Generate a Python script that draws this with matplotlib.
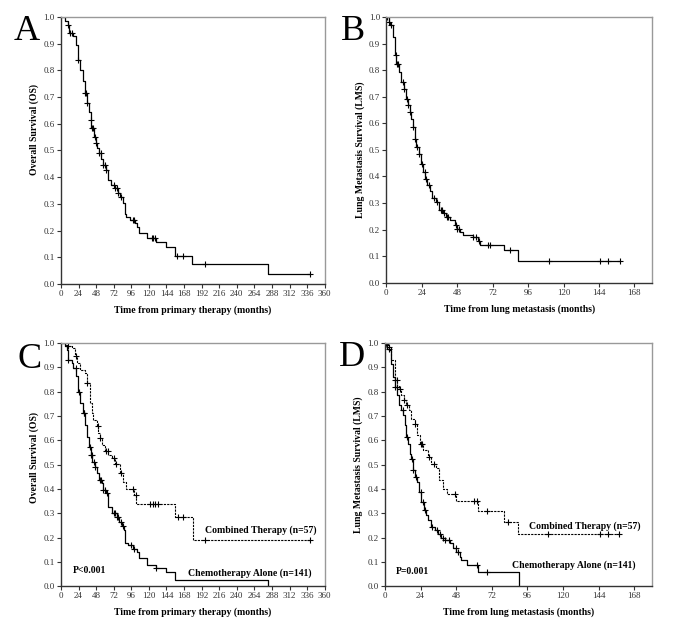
import numpy as np
import matplotlib
matplotlib.use("Agg")
import matplotlib.pyplot as plt

plt.rcParams['font.family'] = ['Liberation Serif', 'DejaVu Serif']

# ---- Panel A: overall survival, all patients (step drop points)
a_t = [0, 5, 10, 11, 17, 20.5, 23, 26, 29.5, 33, 36, 38, 40.5, 41.5, 45, 47.7, 49.5, 52, 55, 57.7,
       61, 63.6, 67.7, 73.6, 78, 81, 84, 86.8, 88.6, 94, 101, 104, 107, 117, 129.5, 144, 155.5,
       179.5, 282.7]
a_s = [1.0, 0.985, 0.97, 0.94, 0.93, 0.896, 0.84, 0.80, 0.76, 0.714, 0.677, 0.645, 0.615, 0.583,
       0.552, 0.527, 0.508, 0.489, 0.467, 0.446, 0.427, 0.39, 0.369, 0.358, 0.342, 0.327, 0.304,
       0.264, 0.252, 0.239, 0.229, 0.214, 0.191, 0.174, 0.156, 0.139, 0.104, 0.076, 0.039]
a_end = 340
a_cens = [10, 13, 15, 23, 33, 34, 36, 41, 42, 44, 46, 48, 52, 54, 58, 60, 62, 72, 74, 76, 78, 82,
          98, 100, 124, 126, 128, 158, 166, 196, 340]

# ---- Panel B: lung metastasis survival, all patients
b_t = [0, 1.6, 2.7, 4.5, 5.6, 6.8, 8.6, 10.2, 11.7, 13.1, 14.7, 15.8, 16.9, 18, 19.2, 20.3, 21.9,
       23.2, 24.8, 26.2, 27.5, 29.3, 31.2, 33.4, 35.7, 38.4, 40.6, 43.3, 46.3, 47.9, 50, 51.9, 58.7,
       62, 63.2, 80, 89.5]
b_s = [1.0, 0.981, 0.97, 0.925, 0.856, 0.824, 0.793, 0.755, 0.73, 0.692, 0.667, 0.642, 0.617,
       0.585, 0.541, 0.51, 0.485, 0.447, 0.416, 0.39, 0.366, 0.347, 0.318, 0.305, 0.275, 0.263,
       0.246, 0.237, 0.219, 0.202, 0.192, 0.18, 0.171, 0.158, 0.142, 0.124, 0.083]
b_end = 158
b_cens = [0.5, 2, 3, 6.5, 7, 8, 11, 12, 14, 15, 16, 18, 19.5, 20.5, 22, 24, 26, 27, 29, 32, 34, 37,
          38, 39, 41, 42, 47, 48, 49, 59, 61, 63, 69, 70, 84, 110, 145, 150, 158]

# ---- Panel C: OS by treatment
c_chemo_t = [0, 5.5, 7.7, 10, 14.5, 16.8, 20.5, 22.7, 26, 29.5, 32.7, 36, 37.7, 40.5, 43, 46.4,
             48.6, 52, 55.5, 57.7, 61.4, 64.5, 69, 76, 79.5, 82.7, 86, 87.3, 91.8, 97.7, 104, 107,
             117, 129.5, 144, 155.5, 282.7]
c_chemo_s = [1.0, 0.986, 0.973, 0.931, 0.918, 0.897, 0.863, 0.80, 0.753, 0.712, 0.663, 0.615, 0.574,
             0.54, 0.512, 0.492, 0.464, 0.437, 0.423, 0.396, 0.382, 0.327, 0.30, 0.286, 0.265, 0.247,
             0.231, 0.176, 0.169, 0.155, 0.139, 0.118, 0.087, 0.073, 0.059, 0.025, 0.0]
c_chemo_end = 282.7
c_chemo_cens = [10, 20, 24, 31, 32, 40, 41, 42, 45, 47, 53, 55, 58, 60, 63, 72, 74, 76, 78, 82, 84,
                95, 100, 130]

c_comb_t = [0, 7, 10, 14.5, 19, 22, 26, 32.7, 36, 39.5, 41.8, 44, 48.6, 51, 53, 55.5, 60, 64.5, 69,
            73.6, 80.5, 84, 88.6, 92, 99.5, 103, 155.5, 180]
c_comb_s = [1.0, 0.993, 0.986, 0.979, 0.945, 0.918, 0.89, 0.876, 0.835, 0.753, 0.712, 0.684, 0.657,
            0.629, 0.608, 0.581, 0.554, 0.54, 0.526, 0.503, 0.466, 0.43, 0.40, 0.40, 0.375, 0.34,
            0.285, 0.19]
c_comb_end = 340
c_comb_cens = [10, 20, 36, 50, 53, 61, 64, 72, 75, 82, 98, 102, 122, 125, 128, 132, 160, 167, 196, 340]

# ---- Panel D: LMS by treatment
d_chemo_t = [0, 1.3, 2.7, 4.3, 5.4, 6.5, 8.1, 9.4, 11, 12.1, 13.3, 14.4, 15.5, 16.6, 17.8, 18.9, 20,
             21.6, 22.9, 24.5, 26.1, 27.9, 29, 31.2, 33.5, 35.7, 38, 40.2, 43.6, 45.8, 48.1, 50.8,
             51.5, 55.5, 62.7, 90.3]
d_chemo_s = [1.0, 0.977, 0.97, 0.915, 0.86, 0.819, 0.785, 0.744, 0.723, 0.703, 0.662, 0.614, 0.586,
             0.545, 0.525, 0.477, 0.449, 0.429, 0.388, 0.347, 0.312, 0.292, 0.271, 0.244, 0.23,
             0.216, 0.20, 0.189, 0.179, 0.159, 0.141, 0.121, 0.107, 0.086, 0.059, 0.0]
d_chemo_end = 90.3
d_chemo_cens = [1, 2.5, 7, 8, 12, 15, 18, 19, 21, 24, 25.5, 27, 32, 35, 37, 39, 40.5, 43, 48, 49, 62, 69]

d_comb_t = [0, 2, 4.3, 6.5, 8.1, 9.4, 11, 12.6, 14.4, 16.2, 17.8, 20, 21.6, 23.4, 25.6, 29, 31.2,
            34.6, 36.4, 39.1, 41.8, 48.1, 62.7, 80.2, 89.7]
d_comb_s = [1.0, 0.984, 0.929, 0.847, 0.822, 0.812, 0.785, 0.767, 0.744, 0.723, 0.689, 0.668, 0.621,
            0.586, 0.559, 0.532, 0.501, 0.484, 0.436, 0.401, 0.378, 0.351, 0.31, 0.264, 0.214]
d_comb_end = 158
d_comb_cens = [1, 3, 7, 8, 10, 13, 15, 20, 24, 25, 30, 33, 47, 60, 62, 69, 83, 110, 145, 150, 158]


def km(ax, t, s, end, cens, ls='-', color='black', lw=0.9):
    tt = list(t) + [end]
    ss = list(s) + [s[-1]]
    ax.step(tt, ss, where='post', color=color, lw=lw, ls=ls)
    # censor marks sit on the curve
    idx = np.searchsorted(np.array(t), np.array(cens), side='right') - 1
    cs = np.array(s)[idx]
    ax.plot(cens, cs, ls='none', marker='+', ms=5, mew=0.8, color=color)


def style(ax, xmax, xticks, xlabel, ylabel, letter, lx, ly):
    ax.set_xlim(0, xmax)
    ax.set_ylim(0, 1.0)
    ax.set_xticks(xticks)
    ax.set_yticks(np.arange(0, 1.01, 0.1))
    ax.set_yticklabels(['%.1f' % v for v in np.arange(0, 1.01, 0.1)])
    ax.tick_params(labelsize=6.5, length=3, width=0.8, pad=1.5, colors='#333333')
    for sp in ['top', 'right']:
        ax.spines[sp].set_color('#999999')
        ax.spines[sp].set_linewidth(1.0)
    for sp in ['left', 'bottom']:
        ax.spines[sp].set_color('#333333')
        ax.spines[sp].set_linewidth(1.0)
    ax.set_xlabel(xlabel, fontsize=7, fontweight='bold', labelpad=5)
    ax.set_ylabel(ylabel, fontsize=7, fontweight='bold', labelpad=3)
    ax.text(lx, ly, letter, transform=ax.transAxes, fontsize=26, ha='right', va='center')


fig = plt.figure(figsize=(6.85, 6.27), dpi=100)
axA = fig.add_axes([0.089, 0.547, 0.385, 0.426])
axB = fig.add_axes([0.564, 0.549, 0.388, 0.424])
axC = fig.add_axes([0.089, 0.065, 0.385, 0.388])
axD = fig.add_axes([0.562, 0.065, 0.390, 0.388])

ticks360 = np.arange(0, 361, 24)
ticks168 = np.arange(0, 169, 24)

km(axA, a_t, a_s, a_end, a_cens)
style(axA, 360, ticks360, 'Time from primary therapy (months)', 'Overall Survival (OS)', 'A', -0.08, 0.945)
axA.yaxis.label.set_position((0, 0.58))

km(axB, b_t, b_s, b_end, b_cens)
style(axB, 180, ticks168, 'Time from lung metastasis (months)', 'Lung Metastasis Survival (LMS)', 'B', -0.08, 0.945)

km(axC, c_chemo_t, c_chemo_s, c_chemo_end, c_chemo_cens)
km(axC, c_comb_t, c_comb_s, c_comb_end, c_comb_cens, ls=(0, (2, 1)), lw=0.8)
style(axC, 360, ticks360, 'Time from primary therapy (months)', 'Overall Survival (OS)', 'C', -0.072, 0.93)
axC.yaxis.label.set_position((0, 0.53))
axC.text(349, 0.23, 'Combined Therapy (n=57)', fontsize=7, fontweight='bold', ha='right', va='center')
axC.text(342, 0.055, 'Chemotherapy Alone (n=141)', fontsize=7, fontweight='bold', ha='right', va='center')
axC.text(16, 0.066, 'P<0.001', fontsize=7, fontweight='bold', ha='left', va='center')

km(axD, d_chemo_t, d_chemo_s, d_chemo_end, d_chemo_cens)
km(axD, d_comb_t, d_comb_s, d_comb_end, d_comb_cens, ls=(0, (2, 1)), lw=0.8)
style(axD, 180, ticks168, 'Time from lung metastasis (months)', 'Lung Metastasis Survival (LMS)', 'D', -0.075, 0.94)
axD.text(172, 0.247, 'Combined Therapy (n=57)', fontsize=7, fontweight='bold', ha='right', va='center')
axD.text(169, 0.086, 'Chemotherapy Alone (n=141)', fontsize=7, fontweight='bold', ha='right', va='center')
axD.text(7.6, 0.059, 'P=0.001', fontsize=7, fontweight='bold', ha='left', va='center')

fig.savefig('out.png', dpi=100)
